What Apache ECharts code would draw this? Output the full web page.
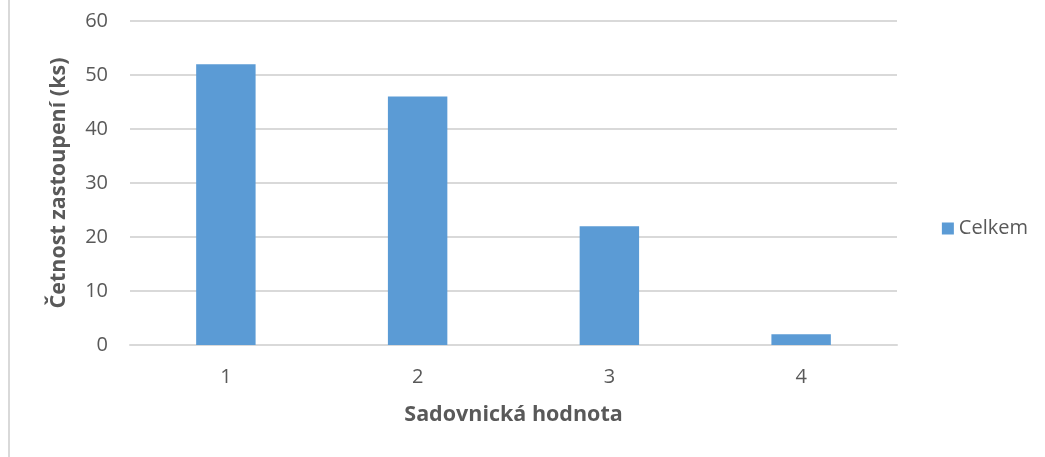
<!DOCTYPE html>
<html>
<head>
<meta charset="utf-8">
<script src="https://cdn.jsdelivr.net/npm/echarts@6/dist/echarts.min.js"></script>
<style>
  html, body { margin: 0; padding: 0; background: #fff; }
  #chart { width: 1045px; height: 457px; }
</style>
</head>
<body>
<div id="chart"></div>
<script>
// Categories (garden value classes) and counts per class
const categories = ['1', '2', '3', '4'];
const celkem = [52, 46, 22, 2];
const seriesName = 'Celkem';
const xTitle = 'Sadovnická hodnota';
const yTitle = 'Četnost zastoupení (ks)';

const FONT = '"Open Sans", sans-serif';
const TEXT = '#595959';

const chart = echarts.init(document.getElementById('chart'));
chart.setOption({
  animation: false,
  textStyle: { fontFamily: FONT },
  graphic: [{
    type: 'rect',
    shape: { x: 8, y: 0, width: 2, height: 457 },
    style: { fill: '#d9d9d9' }
  }],
  grid: { left: 130, right: 148, top: 21, bottom: 112 },
  legend: {
    data: [seriesName],
    right: 12,
    top: 'middle',
    orient: 'vertical',
    itemWidth: 12,
    itemHeight: 12,
    itemGap: 8,
    icon: 'rect',
    textStyle: { color: TEXT, fontSize: 20, fontFamily: FONT }
  },
  xAxis: {
    type: 'category',
    data: categories,
    name: xTitle,
    nameLocation: 'middle',
    nameGap: 59,
    nameTextStyle: { color: TEXT, fontSize: 21.5, fontWeight: 'bold', fontFamily: FONT },
    axisLine: { lineStyle: { color: '#d9d9d9', width: 2 } },
    axisTick: { show: false },
    axisLabel: { color: TEXT, fontSize: 20, margin: 22, fontFamily: FONT }
  },
  yAxis: {
    type: 'value',
    min: 0,
    max: 60,
    interval: 10,
    name: yTitle,
    nameLocation: 'middle',
    nameGap: 60,
    nameTextStyle: { color: TEXT, fontSize: 21.5, fontWeight: 'bold', fontFamily: FONT },
    axisLine: { show: false },
    axisTick: { show: false },
    axisLabel: { color: TEXT, fontSize: 20, margin: 22, fontFamily: FONT },
    splitLine: { lineStyle: { color: '#d9d9d9', width: 2 } }
  },
  series: [{
    name: seriesName,
    type: 'bar',
    data: celkem,
    barWidth: '31%',
    itemStyle: { color: '#5b9bd5' }
  }]
});
</script>
</body>
</html>
